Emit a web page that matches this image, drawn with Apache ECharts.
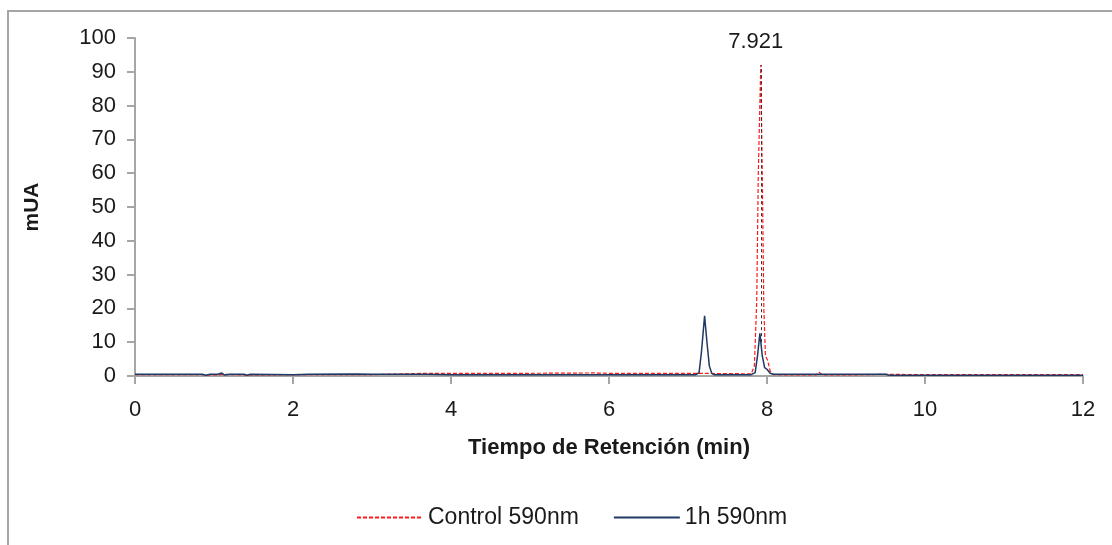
<!DOCTYPE html>
<html>
<head>
<meta charset="utf-8">
<script src="https://cdn.jsdelivr.net/npm/echarts@6/dist/echarts.min.js"></script>
<style>
  html, body { margin: 0; padding: 0; background: #fff; }
  #chart { width: 1112px; height: 545px; }
</style>
</head>
<body>
<div id="chart"></div>
<script>
// Chromatogram traces at 590 nm: [retention time (min), absorbance (mUA)]
const controlTrace = [
  [0, 0.4], [0.8, 0.4], [1.05, 0.3], [1.1, 0.5], [1.4, 0.3], [2, 0.4], [3, 0.4],
  [3.7, 0.8], [4, 0.8], [5, 0.8], [5.8, 0.9], [6, 0.8], [7, 0.8], [7.6, 0.7],
  [7.8, 0.6], [7.84, 3], [7.87, 22], [7.89, 60], [7.921, 92], [7.94, 60],
  [7.96, 20], [7.98, 6], [8.01, 4.5], [8.04, 1.5], [8.08, 0.4], [8.3, 0.3],
  [8.62, 0.3], [8.66, 1.1], [8.7, 0.3], [9, 0.3], [9.5, 0.5], [10, 0.4],
  [11, 0.4], [12, 0.4]
];
const oneHourTrace = [
  [0, 0.5], [0.85, 0.5], [0.9, 0.2], [0.95, 0.5], [1.05, 0.5], [1.1, 0.9],
  [1.13, 0.3], [1.2, 0.5], [1.38, 0.5], [1.42, 0.2], [1.46, 0.5], [2, 0.4],
  [2.2, 0.5], [2.8, 0.6], [3, 0.5], [3.7, 0.5], [4, 0.4], [5, 0.4], [6, 0.4],
  [7.1, 0.4], [7.14, 1], [7.17, 7], [7.21, 17.8], [7.24, 10], [7.27, 3],
  [7.3, 0.8], [7.33, 0.4], [7.8, 0.4], [7.85, 1], [7.88, 6], [7.91, 12.6],
  [7.94, 6], [7.97, 2.5], [8.0, 2], [8.04, 0.8], [8.08, 0.5], [9.5, 0.5],
  [9.55, 0.2], [10, 0.2], [12, 0.2]
];
const seriesNames = ['Control 590nm', '1h 590nm'];
const peakTime = 7.921;
const peakHeight = 92;
const xTitle = 'Tiempo de Retención (min)';
const yTitle = 'mUA';

const FONT = 'Liberation Sans';
const axisGray = '#a6a6a6';
const textColor = '#1a1a1a';

const chart = echarts.init(document.getElementById('chart'), null, { renderer: 'canvas' });

chart.setOption({
  animation: false,
  backgroundColor: '#ffffff',
  textStyle: { fontFamily: FONT, color: textColor },
  graphic: [{
    type: 'rect',
    shape: { x: 8, y: 11, width: 1300, height: 700 },
    style: { fill: 'none', stroke: axisGray, lineWidth: 2 },
    silent: true
  }],
  grid: { left: 135, top: 38, width: 948, height: 338, containLabel: false },
  legend: {
    bottom: 11,
    left: 351,
    itemWidth: 66,
    itemHeight: 10,
    itemGap: 34,
    itemStyle: { opacity: 0 },
    textStyle: { fontFamily: FONT, fontSize: 23, color: textColor },
    data: seriesNames
  },
  xAxis: {
    type: 'value',
    min: 0, max: 12, interval: 2,
    name: xTitle,
    nameLocation: 'middle',
    nameGap: 61,
    nameTextStyle: { fontFamily: FONT, fontSize: 22, fontWeight: 'bold', color: textColor },
    axisLine: { lineStyle: { color: axisGray, width: 2 } },
    axisTick: { show: true, length: 8, lineStyle: { color: axisGray, width: 2 } },
    axisLabel: { fontFamily: FONT, fontSize: 22, color: textColor, margin: 23 },
    splitLine: { show: false }
  },
  yAxis: {
    type: 'value',
    min: 0, max: 100, interval: 10,
    name: yTitle,
    nameLocation: 'middle',
    nameGap: 92,
    nameRotate: 90,
    nameTextStyle: { fontFamily: FONT, fontSize: 21, fontWeight: 'bold', color: textColor },
    axisLine: { show: true, lineStyle: { color: axisGray, width: 2 } },
    axisTick: { show: true, length: 8, lineStyle: { color: axisGray, width: 2 } },
    axisLabel: { fontFamily: FONT, fontSize: 22, color: textColor, margin: 19 },
    splitLine: { show: false }
  },
  series: [
    {
      name: seriesNames[0],
      type: 'line',
      data: controlTrace,
      showSymbol: false,
      symbol: 'none',
      color: '#ff1a1a',
      lineStyle: { color: '#ff1a1a', width: 1.2, type: [4, 2] },
      z: 2,
      markLine: {
        silent: true,
        symbol: 'none',
        lineStyle: { color: '#333', width: 1, type: [3, 3] },
        label: {
          show: true,
          position: 'end',
          distance: 12,
          offset: [-5, 0],
          fontFamily: FONT,
          fontSize: 22,
          color: textColor,
          formatter: String(peakTime)
        },
        data: [[{ coord: [peakTime, 10] }, { coord: [peakTime, peakHeight] }]]
      }
    },
    {
      name: seriesNames[1],
      type: 'line',
      data: oneHourTrace,
      showSymbol: false,
      symbol: 'none',
      color: '#1f3864',
      lineStyle: { color: '#1f3864', width: 1.5, type: 'solid' },
      z: 3
    }
  ]
});
</script>
</body>
</html>
